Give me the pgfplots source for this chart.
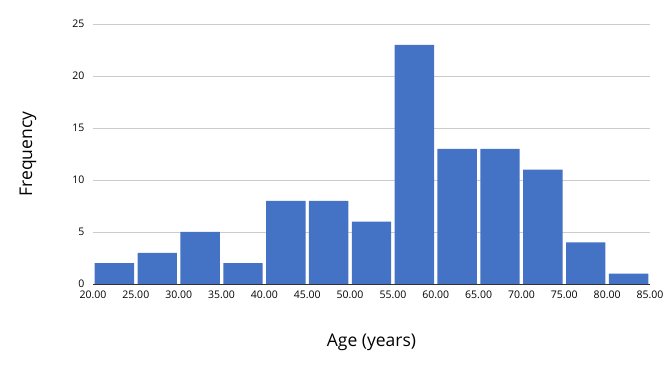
\documentclass[border=0pt]{standalone}
\usepackage{fontspec}
\setmainfont{Open Sans}
\usepackage{pgfplots}
\pgfplotsset{compat=1.18}
\definecolor{barblue}{HTML}{4472C4}
\definecolor{gridgray}{HTML}{CCCCCC}

\begin{document}
\begin{tikzpicture}[x=1pt,y=1pt]
\useasboundingbox (-93,-87) rectangle (577,284);
\begin{axis}[
  at={(0,0)}, anchor=origin,
  scale only axis,
  width=557pt, height=260pt,
  xmin=20, xmax=85,
  ymin=0, ymax=25,
  xtick={20,25,...,85},
  ytick={0,5,...,25},
  xticklabel={\pgfmathprintnumber[fixed,fixed zerofill,precision=2]{\tick}},
  /pgf/number format/assume math mode=true,
  tick label style={font=\fontsize{10.5}{12}\selectfont},
  yticklabel style={xshift=-5pt},
  xticklabel style={yshift=-3pt},
  ymajorgrids,
  grid style={gridgray, line width=0.8pt},
  axis line style={draw=none},
  major tick length=0pt,
  xlabel={Age (years)},
  ylabel={Frequency},
  label style={font=\fontsize{17.5}{20}\selectfont},
  xlabel style={at={(axis description cs:0.5,0)}, anchor=center, yshift=-58pt},
  ylabel style={at={(axis description cs:0,0.5)}, anchor=center, yshift=65pt},
  clip=false,
]
\addplot[ybar, bar width=4.6, bar shift=0pt, fill=barblue, draw=none]
  coordinates {
  (22.5,2) (27.5,3) (32.5,5) (37.5,2) (42.5,8) (47.5,8) (52.5,6)
  (57.5,23) (62.5,13) (67.5,13) (72.5,11) (77.5,4) (82.5,1)
};
\draw[black!80, line width=0.8pt] (axis cs:20,0) -- (axis cs:85,0);
\end{axis}
\end{tikzpicture}
\end{document}
